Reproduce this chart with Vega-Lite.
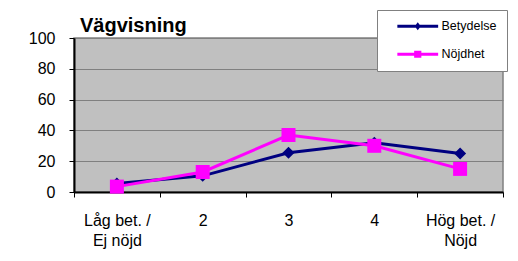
{
  "$schema": "https://vega.github.io/schema/vega-lite/v6.json",
  "width": 429,
  "height": 154,
  "autosize": {"type": "none"},
  "padding": {"left": 74, "top": 38, "right": 15, "bottom": 69},
  "background": "white",
  "config": {
    "font": "Liberation Sans",
    "view": {"fill": "#C0C0C0", "stroke": "#808080", "strokeWidth": 1.5}
  },
  "title": {
    "text": "Vägvisning",
    "anchor": "start",
    "frame": "group",
    "dx": 6,
    "fontSize": 20,
    "fontWeight": "bold",
    "color": "black",
    "font": "Liberation Sans",
    "baseline": "alphabetic",
    "offset": -42
  },
  "data": {
    "values": [
      {"kategori": "Låg bet. /\nEj nöjd", "k": 1, "serie": "Betydelse", "varde": 5.5},
      {"kategori": "2", "k": 2, "serie": "Betydelse", "varde": 10.5},
      {"kategori": "3", "k": 3, "serie": "Betydelse", "varde": 25.5},
      {"kategori": "4", "k": 4, "serie": "Betydelse", "varde": 32},
      {"kategori": "Hög bet. /\nNöjd", "k": 5, "serie": "Betydelse", "varde": 25},
      {"kategori": "Låg bet. /\nEj nöjd", "k": 1, "serie": "Nöjdhet", "varde": 3.5},
      {"kategori": "2", "k": 2, "serie": "Nöjdhet", "varde": 13},
      {"kategori": "3", "k": 3, "serie": "Nöjdhet", "varde": 37},
      {"kategori": "4", "k": 4, "serie": "Nöjdhet", "varde": 30},
      {"kategori": "Hög bet. /\nNöjd", "k": 5, "serie": "Nöjdhet", "varde": 15}
    ]
  },
  "encoding": {
    "x": {
      "field": "kategori",
      "type": "nominal",
      "sort": {"field": "k"},
      "scale": {"paddingInner": 0, "paddingOuter": 0},
      "axis": {
        "title": null,
        "tickBand": "extent",
        "tickSize": 5,
        "tickColor": "black",
        "domainColor": "black",
        "domainWidth": 2,
        "labelAngle": 0,
        "labelFontSize": 16,
        "labelColor": "black",
        "labelPadding": 15,
        "labelBaseline": "top",
        "labelLineHeight": 20,
        "labelExpr": "split(datum.label, '\\n')"
      }
    },
    "y": {
      "field": "varde",
      "type": "quantitative",
      "scale": {"domain": [0, 100]},
      "axis": {
        "title": null,
        "values": [0, 20, 40, 60, 80, 100],
        "tickSize": 5,
        "tickColor": "black",
        "domainColor": "black",
        "domainWidth": 2,
        "labelFontSize": 16,
        "labelColor": "black",
        "labelPadding": 14,
        "grid": true,
        "gridColor": "#808080",
        "gridWidth": 1
      }
    },
    "order": {"field": "k", "type": "quantitative"},
    "color": {
      "field": "serie",
      "type": "nominal",
      "scale": {"domain": ["Betydelse", "Nöjdhet"], "range": ["#000080", "#FF00FF"]},
      "legend": {
        "title": null,
        "orient": "none",
        "legendX": 303,
        "legendY": -28,
        "fillColor": "white",
        "strokeColor": "#808080",
        "padding": 10,
        "labelFontSize": 12.5,
        "labelColor": "black",
        "labelFont": "Liberation Sans",
        "rowPadding": 15,
        "symbolSize": 144,
        "symbolOffset": 24.5,
        "labelOffset": 17.5,
        "encode": {
          "symbols": {
            "update": {
              "shape": {"signal": "datum.value === 'Betydelse' ? 'M-3.4,-0.25H3.4V0.25H-3.4Z M0,-0.65L0.5,0L0,0.65L-0.5,0Z' : 'M-3.4,-0.25H3.4V0.25H-3.4Z M-0.6,-0.6H0.6V0.6H-0.6Z'"},
              "fill": {"scale": "color", "field": "value"},
              "strokeWidth": {"value": 0},
              "opacity": {"value": 1}
            }
          }
        }
      }
    }
  },
  "layer": [
    {
      "transform": [{"filter": "datum.serie === 'Betydelse'"}],
      "mark": {"type": "line", "strokeWidth": 3}
    },
    {
      "transform": [{"filter": "datum.serie === 'Betydelse'"}],
      "mark": {"type": "point", "filled": true, "shape": "diamond", "size": 144, "opacity": 1}
    },
    {
      "transform": [{"filter": "datum.serie === 'Nöjdhet'"}],
      "mark": {"type": "line", "strokeWidth": 3}
    },
    {
      "transform": [{"filter": "datum.serie === 'Nöjdhet'"}],
      "mark": {"type": "point", "filled": true, "shape": "square", "size": 196, "opacity": 1}
    }
  ]
}
